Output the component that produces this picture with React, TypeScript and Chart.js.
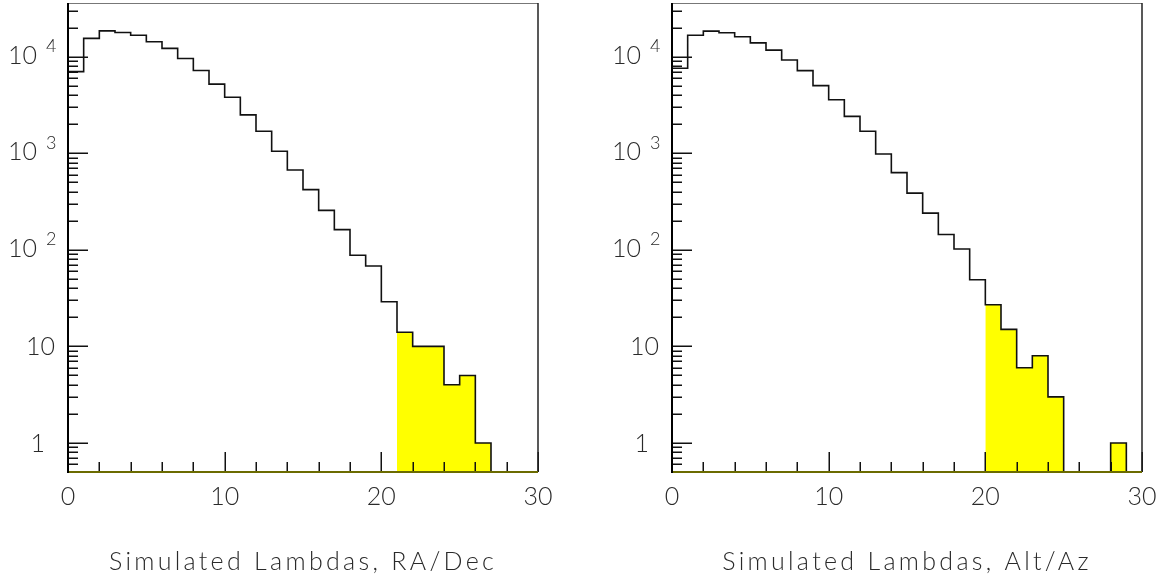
import React, { useEffect, useRef } from "react";
import { Chart, registerables } from "chart.js";

Chart.register(...registerables);

// Bin edges of the histogram (30 unit-width bins from 0 to 30)
const binEdges = [0, 1, 2, 3, 4, 5, 6, 7, 8, 9, 10, 11, 12, 13, 14, 15, 16, 17, 18, 19, 20, 21, 22, 23, 24, 25, 26, 27, 28, 29, 30];

// Counts per bin
const raDecCounts = [7000, 15500, 18500, 17800, 16700, 14300, 12200, 9600, 7200, 5200, 3800, 2500, 1690, 1050, 670, 420, 256, 162, 88, 68, 29, 14, 10, 10, 4, 5, 1, 0, 0, 0];
const altAzCounts = [7600, 16700, 18400, 17700, 16100, 13900, 11700, 9250, 7180, 5020, 3580, 2410, 1690, 984, 631, 387, 240, 144, 102, 49, 27, 15, 6, 8, 3, 0, 0, 0, 1, 0];

// first highlighted bin (yellow)
const raDecCut = 21;
const altAzCut = 20;

// Axis ticks and labels
const xMajorTicks = [0, 10, 20, 30];
const xMinorTicks = [2, 4, 6, 8, 12, 14, 16, 18, 22, 24, 26, 28];
const yDecades = [1, 10, 100, 1000, 10000];
const yLabelBase = ["1", "10", "10", "10", "10"];
const yLabelExp = ["", "", "2", "3", "4"];

const titles = ["Simulated Lambdas, RA/Dec", "Simulated Lambdas, Alt/Az"];

const Y_MIN = 0.5;
const Y_MAX = 36000;
const FONT = '"Lato", "DejaVu Sans", sans-serif';
const TEXT_COLOR = "#2a2a2a";

const CW = 586;
const CH = 583;

// empty bins sit on the axis floor of the log scale
const plotValue = (c: number) => (c > 0 ? c : Y_MIN);

function framePlugin(title: string) {
  return {
    id: "rootFrame",
    afterDraw(chart: any) {
      const ctx = chart.ctx as CanvasRenderingContext2D;
      const { left, right, top, bottom } = chart.chartArea;
      const xs = chart.scales.x;
      const ys = chart.scales.y;
      ctx.save();
      // ticks on x axis (inside)
      ctx.strokeStyle = "#111";
      ctx.lineWidth = 1.5;
      ctx.beginPath();
      for (const v of xMinorTicks) {
        const px = Math.round(xs.getPixelForValue(v)) + 0.25;
        ctx.moveTo(px, bottom);
        ctx.lineTo(px, bottom - 10);
      }
      for (const v of xMajorTicks) {
        const px = Math.round(xs.getPixelForValue(v)) + 0.25;
        ctx.moveTo(px, bottom);
        ctx.lineTo(px, bottom - 20);
      }
      // ticks on y axis (inside)
      for (const d of [0.1, 1, 10, 100, 1000, 10000]) {
        for (let m = 1; m <= 9; m++) {
          const v = d * m;
          if (v < Y_MIN || v > Y_MAX) continue;
          const py = Math.round(ys.getPixelForValue(v)) + 0.25;
          ctx.moveTo(left, py);
          ctx.lineTo(left + (m === 1 ? 20 : 10), py);
        }
      }
      ctx.stroke();

      // frame
      ctx.strokeStyle = "#777";
      ctx.lineWidth = 1;
      ctx.beginPath();
      ctx.moveTo(left, top + 0.5);
      ctx.lineTo(right, top + 0.5);
      ctx.stroke();
      ctx.strokeStyle = "#222";
      ctx.lineWidth = 1.5;
      ctx.beginPath();
      ctx.moveTo(right, top);
      ctx.lineTo(right, bottom);
      ctx.stroke();
      ctx.strokeStyle = "#6b6b00";
      ctx.lineWidth = 2;
      ctx.beginPath();
      ctx.moveTo(left, bottom);
      ctx.lineTo(right, bottom);
      ctx.stroke();
      ctx.strokeStyle = "#000";
      ctx.lineWidth = 2;
      ctx.beginPath();
      ctx.moveTo(left, top);
      ctx.lineTo(left, bottom + 1);
      ctx.stroke();

      // x tick labels
      ctx.fillStyle = TEXT_COLOR;
      ctx.font = `300 25px ${FONT}`;
      ctx.textAlign = "center";
      ctx.textBaseline = "alphabetic";
      for (const v of xMajorTicks) {
        ctx.fillText(String(v), xs.getPixelForValue(v), bottom + 33);
      }

      // y tick labels
      yDecades.forEach((v, i) => {
        const py = ys.getPixelForValue(v);
        const exp = yLabelExp[i];
        ctx.font = `300 25px ${FONT}`;
        ctx.textAlign = "right";
        if (exp) {
          ctx.fillText(yLabelBase[i], left - 31, py + 7);
          ctx.font = `300 18px ${FONT}`;
          ctx.textAlign = "left";
          ctx.fillText(exp, left - 22, py - 4.5);
        } else {
          ctx.fillText(yLabelBase[i], left - (yLabelBase[i].length > 1 ? 13 : 23), py + 9);
        }
      });

      // axis title
      ctx.font = `300 25px ${FONT}`;
      (ctx as any).letterSpacing = "3.3px";
      ctx.textAlign = "center";
      ctx.fillText(title, (left + right) / 2, 570);
      ctx.restore();
    },
  };
}

function Panel({ counts, cut, title, x, shift }: { counts: number[]; cut: number; title: string; x: number; shift: number }) {
  const ref = useRef<HTMLCanvasElement | null>(null);
  useEffect(() => {
    if (!ref.current) return;
    const outline = binEdges.map((e, i) => ({ x: e, y: plotValue(counts[Math.min(i, counts.length - 1)]) }));
    const highlight = binEdges.map((e, i) => ({ x: e, y: i >= cut ? plotValue(counts[Math.min(i, counts.length - 1)]) : null }));
    const areaLeft = 68 + shift;
    const areaRight = 538 + shift;
    const chart = new Chart(ref.current, {
      type: "line",
      data: {
        datasets: [
          {
            data: outline as any,
            stepped: "before",
            borderColor: "#111",
            borderWidth: 1.6,
            pointRadius: 0,
            fill: false,
            order: 0,
          },
          {
            data: highlight as any,
            stepped: "before",
            borderColor: "rgba(0,0,0,0)",
            borderWidth: 0,
            backgroundColor: "#ffff00",
            pointRadius: 0,
            fill: "start",
            spanGaps: false,
            order: 1,
          },
        ],
      },
      options: {
        animation: false,
        responsive: false,
        maintainAspectRatio: false,
        events: [],
        layout: { padding: { left: 0, top: 3, right: CW - areaRight, bottom: 0 } },
        plugins: { legend: { display: false }, tooltip: { enabled: false } },
        scales: {
          x: {
            type: "linear",
            min: 0,
            max: 30,
            ticks: { display: false },
            grid: { display: false, drawTicks: false },
            border: { display: false },
            afterFit: (s: any) => {
              s.height = CH - 472;
            },
          },
          y: {
            type: "logarithmic",
            min: Y_MIN,
            max: Y_MAX,
            ticks: { display: false },
            grid: { display: false, drawTicks: false },
            border: { display: false },
            afterFit: (s: any) => {
              s.width = areaLeft;
            },
          },
        },
      },
      plugins: [framePlugin(title)],
    });
    let alive = true;
    if ((document as any).fonts) {
      (document as any).fonts.load(`300 25px Lato`).then(() => {
        if (alive) chart.draw();
      });
    }
    return () => {
      alive = false;
      chart.destroy();
    };
  }, [counts, cut, title, shift]);
  return (
    <canvas
      ref={ref}
      width={CW}
      height={CH}
      style={{ position: "absolute", left: x, top: 0, width: CW, height: CH }}
    />
  );
}

export default function App() {
  return (
    <div style={{ position: "fixed", left: 0, top: 0, width: 1172, height: 583, background: "#fff" }}>
      <Panel counts={raDecCounts} cut={raDecCut} title={titles[0]} x={0} shift={0} />
      <Panel counts={altAzCounts} cut={altAzCut} title={titles[1]} x={586} shift={18} />
    </div>
  );
}
